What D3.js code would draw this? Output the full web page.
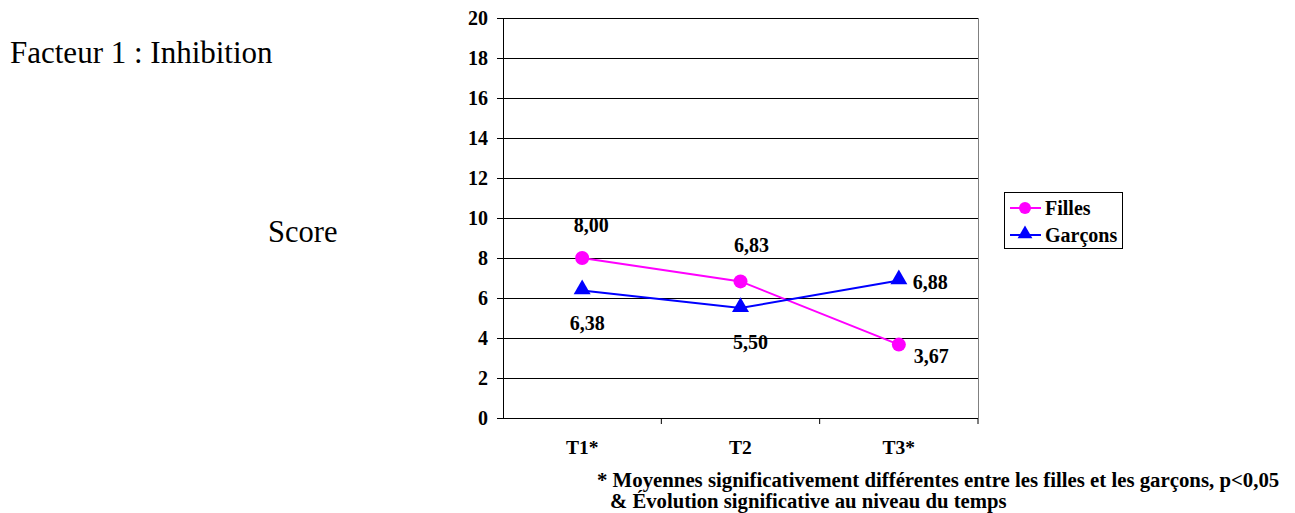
<!DOCTYPE html>
<html>
<head>
<meta charset="utf-8">
<script src="https://cdn.jsdelivr.net/npm/d3@7"></script>
<style>
  body { margin: 0; background: #fff; }
  svg text { font-family: "Liberation Serif", "Times New Roman", serif; fill: #000; }
  .b { font-weight: bold; }
</style>
</head>
<body>
<svg id="chart" width="1295" height="513"></svg>
<script>
const categories = ['T1*', 'T2', 'T3*'];
const filles = [8.00, 6.83, 3.67];
const garcons = [6.38, 5.50, 6.88];
const yTicks = [0, 2, 4, 6, 8, 10, 12, 14, 16, 18, 20];
const fmt = v => v.toFixed(2).replace('.', ',');

const svg = d3.select('#chart');
const L = 503, R = 978, T = 18, B = 418;

const x = d3.scaleBand().domain(categories).range([L, R]);
const cx = c => x(c) + x.bandwidth() / 2;
const y = d3.scaleLinear().domain([0, 20]).range([B, T]);

// gridlines
svg.append('g').selectAll('line').data(yTicks.filter(t => t > 0)).join('line')
  .attr('x1', L).attr('x2', R).attr('y1', d => y(d)).attr('y2', d => y(d))
  .attr('stroke', '#000').attr('stroke-width', 1).attr('shape-rendering', 'crispEdges');
// plot border right side
svg.append('line').attr('x1', R).attr('x2', R).attr('y1', T).attr('y2', B)
  .attr('stroke', '#808080').attr('shape-rendering', 'crispEdges');

// y axis
const yAxis = svg.append('g').attr('transform', `translate(${L},0)`)
  .call(d3.axisLeft(y).tickValues(yTicks).tickSize(6).tickPadding(9).tickSizeOuter(0));
yAxis.attr('font-family', null);
yAxis.select('.domain').attr('stroke', '#000');
yAxis.selectAll('line').attr('stroke', '#000');
yAxis.selectAll('text').attr('class', 'b').style('font-size', '20px').attr('fill', '#000');

// x axis: ticks at band boundaries
const xg = svg.append('g').attr('transform', `translate(0,${B})`);
xg.append('line').attr('x1', L).attr('x2', R).attr('stroke', '#000')
  .attr('shape-rendering', 'crispEdges');
xg.selectAll('.tk').data(categories).join('line').attr('class', 'tk')
  .attr('x1', d => x(d) + x.bandwidth()).attr('x2', d => x(d) + x.bandwidth())
  .attr('y1', 0).attr('y2', 6).attr('stroke', '#000');
xg.selectAll('text').data(categories).join('text')
  .attr('class', 'b').attr('x', d => cx(d)).attr('y', 36)
  .attr('text-anchor', 'middle').style('font-size', '19.5px').text(d => d);

// series
const line = d3.line().x((d, i) => cx(categories[i])).y(d => y(d));
svg.append('path').datum(filles).attr('d', line)
  .attr('fill', 'none').attr('stroke', '#ff00ff').attr('stroke-width', 2);
svg.append('path').datum(garcons).attr('d', line)
  .attr('fill', 'none').attr('stroke', '#0000ff').attr('stroke-width', 2);

svg.append('g').selectAll('circle').data(filles).join('circle')
  .attr('cx', (d, i) => cx(categories[i])).attr('cy', d => y(d)).attr('r', 7)
  .attr('fill', '#ff00ff');
const tri = d3.symbol().type(d3.symbolTriangle).size(125);
svg.append('g').selectAll('path').data(garcons).join('path')
  .attr('d', tri)
  .attr('transform', (d, i) => `translate(${cx(categories[i])},${y(d) - 1})`)
  .attr('fill', '#0000ff');

// data labels (Excel-like placement: above / below / right)
const fPos = [[9, -26, 'middle'], [11, -29, 'middle'], [15, 18, 'start']];
const gPos = [[5, 40, 'middle'], [10, 41, 'middle'], [14, 9, 'start']];
function labels(data, pos) {
  svg.append('g').selectAll('text').data(data).join('text')
    .attr('class', 'b').style('font-size', '20px')
    .attr('x', (d, i) => cx(categories[i]) + pos[i][0])
    .attr('y', (d, i) => y(d) + pos[i][1])
    .attr('text-anchor', (d, i) => pos[i][2])
    .text(d => fmt(d));
}
labels(filles, fPos);
labels(garcons, gPos);

// legend
const lg = svg.append('g');
lg.append('rect').attr('x', 1004.5).attr('y', 192.5).attr('width', 118).attr('height', 56)
  .attr('fill', '#fff').attr('stroke', '#000');
const leg = [['Filles', '#ff00ff', 'c'], ['Garçons', '#0000ff', 't']];
leg.forEach(([name, col, m], i) => {
  const yy = 208 + i * 27;
  lg.append('line').attr('x1', 1010).attr('x2', 1041).attr('y1', yy).attr('y2', yy)
    .attr('stroke', col).attr('stroke-width', 2);
  if (m === 'c') lg.append('circle').attr('cx', 1025).attr('cy', yy).attr('r', 6).attr('fill', col);
  else lg.append('path').attr('d', d3.symbol().type(d3.symbolTriangle).size(95))
    .attr('transform', `translate(1025,${yy - 1})`).attr('fill', col);
  lg.append('text').attr('class', 'b').attr('x', 1045).attr('y', yy + 7)
    .style('font-size', '20px').text(name);
});

// titles and notes
svg.append('text').attr('x', 10).attr('y', 63).style('font-size', '31px')
  .text('Facteur 1 : Inhibition');
svg.append('text').attr('x', 268).attr('y', 242).style('font-size', '30.5px').text('Score');
svg.append('text').attr('class', 'b').attr('x', 597).attr('y', 487).style('font-size', '20.8px')
  .text('* Moyennes significativement différentes entre les filles et les garçons, p<0,05');
svg.append('text').attr('class', 'b').attr('x', 610).attr('y', 508).style('font-size', '20.7px')
  .text('& Évolution significative au niveau du temps');
</script>
</body>
</html>
